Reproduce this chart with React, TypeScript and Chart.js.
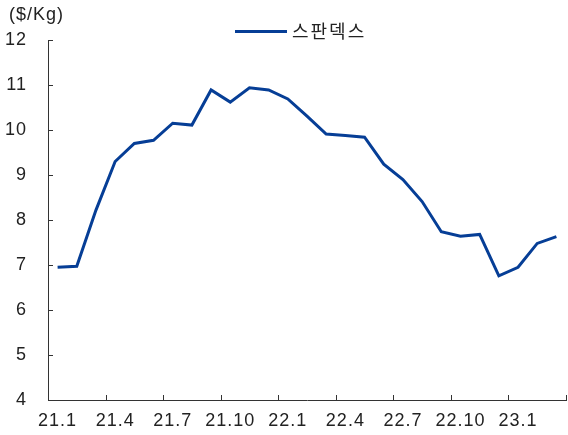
import React, { useEffect, useRef } from "react";
import { Chart, registerables } from "chart.js";

Chart.register(...registerables);

const categories = [
  "21.1", "21.2", "21.3", "21.4", "21.5", "21.6", "21.7", "21.8", "21.9", "21.10", "21.11", "21.12",
  "22.1", "22.2", "22.3", "22.4", "22.5", "22.6", "22.7", "22.8", "22.9", "22.10", "22.11", "22.12",
  "23.1", "23.2", "23.3",
];
const spandexPrice = [
  6.95, 6.97, 8.22, 9.3, 9.7, 9.77, 10.15, 10.11, 10.89, 10.62, 10.94, 10.89,
  10.69, 10.31, 9.91, 9.88, 9.84, 9.24, 8.9, 8.41, 7.74, 7.64, 7.68, 6.76,
  6.95, 7.48, 7.63,
];
const tickLabels = ["21.1", "21.4", "21.7", "21.10", "22.1", "22.4", "22.7", "22.10", "23.1"];
const seriesName = "스판덱스";
const unitLabel = "($/Kg)";
const yMin = 4;
const yMax = 12;

const LINE_COLOR = "#063E96";
const AXIS_COLOR = "#333333";
const TEXT_COLOR = "#222222";
const NUM_FONT = "'Liberation Sans', Arial, sans-serif";
const KR_FONT = "'Noto Sans CJK KR', sans-serif";

const decorPlugin = {
  id: "decor",
  beforeDraw(chart: any) {
    (chart.ctx as any).letterSpacing = "1px";
  },
  afterDraw(chart: any) {
    const ctx = chart.ctx;
    const xs = chart.scales.x;
    const ys = chart.scales.y;
    const area = chart.chartArea;
    ctx.save();
    ctx.strokeStyle = AXIS_COLOR;
    ctx.lineWidth = 1;
    // inward y ticks
    for (let v = yMin; v <= yMax; v++) {
      const y = Math.round(ys.getPixelForValue(v)) + 0.5;
      ctx.beginPath();
      ctx.moveTo(area.left, y);
      ctx.lineTo(area.left + 5, y);
      ctx.stroke();
    }
    // inward x ticks at quarter boundaries
    for (let i = 0; i <= categories.length; i += 3) {
      const x = Math.round(xs.getPixelForValue(i - 0.5)) + 0.5;
      ctx.beginPath();
      ctx.moveTo(x, area.bottom);
      ctx.lineTo(x, area.bottom - 5);
      ctx.stroke();
    }
    // unit label
    ctx.fillStyle = TEXT_COLOR;
    (ctx as any).letterSpacing = "1px";
    ctx.font = `18px ${NUM_FONT}`;
    ctx.textAlign = "left";
    ctx.textBaseline = "middle";
    ctx.fillText(unitLabel, 9, 15);
    // legend
    ctx.strokeStyle = LINE_COLOR;
    ctx.lineWidth = 3;
    ctx.beginPath();
    ctx.moveTo(235, 31.5);
    ctx.lineTo(287, 31.5);
    ctx.stroke();
    ctx.fillStyle = TEXT_COLOR;
    (ctx as any).letterSpacing = "2px";
    ctx.font = `18px ${KR_FONT}`;
    ctx.fillText(seriesName, 292, 31);
    ctx.restore();
    (ctx as any).letterSpacing = "0px";
  },
};

export default function App() {
  const canvasRef = useRef<HTMLCanvasElement | null>(null);

  useEffect(() => {
    if (!canvasRef.current) return;
    const chart = new Chart(canvasRef.current, {
      type: "line",
      data: {
        labels: categories,
        datasets: [
          {
            label: seriesName,
            data: spandexPrice,
            borderColor: LINE_COLOR,
            backgroundColor: LINE_COLOR,
            borderWidth: 3,
            pointRadius: 0,
            tension: 0,
            fill: false,
          },
        ],
      },
      options: {
        animation: false,
        responsive: false,
        layout: { padding: { top: 40, right: 2, left: 0, bottom: 0 } },
        plugins: {
          legend: { display: false },
          tooltip: { enabled: false },
        },
        scales: {
          x: {
            type: "category",
            offset: true,
            grid: { display: false, drawTicks: false },
            border: { display: true, color: AXIS_COLOR, width: 1 },
            ticks: {
              autoSkip: false,
              maxRotation: 0,
              minRotation: 0,
              padding: 10,
              color: TEXT_COLOR,
              font: { family: NUM_FONT, size: 18 },
              callback: (_v: any, index: number) =>
                tickLabels.includes(categories[index]) ? categories[index] : "",
            },
            afterFit: (scale: any) => {
              scale.height = 35;
            },
          },
          y: {
            min: yMin,
            max: yMax,
            grid: { display: false, drawTicks: false },
            border: { display: true, color: AXIS_COLOR, width: 1 },
            ticks: {
              stepSize: 1,
              padding: 21,
              color: TEXT_COLOR,
              font: { family: NUM_FONT, size: 18 },
            },
            afterFit: (scale: any) => {
              scale.width = 48;
            },
          },
        },
      },
      plugins: [decorPlugin],
    });
    return () => chart.destroy();
  }, []);

  return (
    <div style={{ position: "absolute", left: 0, top: 0, width: 568, height: 435, background: "#fff" }}>
      <canvas ref={canvasRef} width={568} height={435} />
    </div>
  );
}
